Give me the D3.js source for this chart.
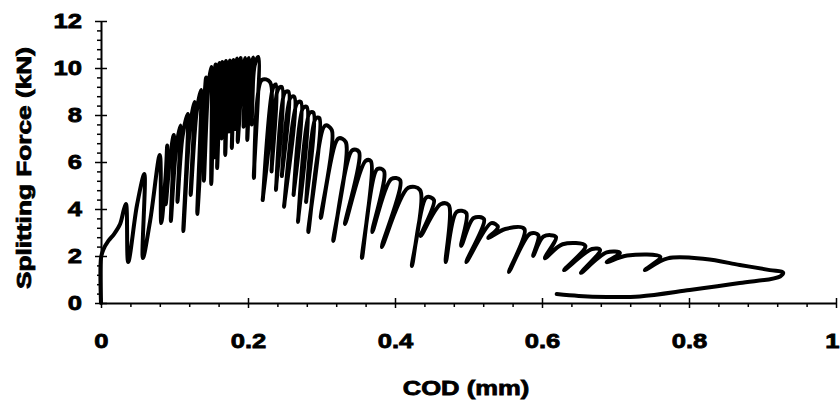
<!DOCTYPE html>
<html>
<head>
<meta charset="utf-8">
<script src="https://cdn.jsdelivr.net/npm/d3@7"></script>
<style>
  body { margin: 0; background: #fff; }
  text { font-family: "Liberation Sans", Arial, sans-serif; font-weight: bold; fill: #000; stroke: #000; stroke-width: 0.8px; }
</style>
</head>
<body>
<svg id="chart" width="840" height="409"></svg>
<script>
// initial rise before the first unloading
const rampCod = [0, 0, 0.003, 0.010, 0.018, 0.026, 0.031];
const rampForce = [0, 1.91, 2.26, 2.64, 2.94, 3.36, 3.96];

// each cycle: unload from peak, bottom of loop, reload back to envelope
const peakCod = [0.034, 0.059, 0.080, 0.090, 0.099, 0.108, 0.118, 0.127, 0.136, 0.143, 0.150, 0.156,
  0.161, 0.165, 0.170, 0.175, 0.180, 0.185, 0.190, 0.196, 0.201, 0.207, 0.214,
  0.230, 0.238, 0.246, 0.255, 0.263, 0.272, 0.280, 0.289, 0.297, 0.314, 0.333, 0.351, 0.367, 0.385,
  0.407, 0.434, 0.453, 0.473, 0.497, 0.521, 0.540, 0.576, 0.595, 0.619, 0.659, 0.679, 0.706, 0.761];
const peakForce = [4.21, 5.49, 6.30, 6.70, 7.15, 7.55, 8.04, 8.55, 9.06, 9.60, 10.04, 10.15,
  10.21, 10.26, 10.30, 10.32, 10.34, 10.40, 10.43, 10.43, 10.43, 10.45, 10.47,
  9.40, 9.30, 9.19, 9.00, 8.77, 8.55, 8.34, 8.10, 7.87, 7.36, 6.85, 6.43, 6.04, 5.62,
  5.23, 4.81, 4.38, 4.17, 3.83, 3.57, 3.23, 3.15, 2.89, 2.81, 2.43, 2.26, 2.13, 1.96];
const troughCod = [0.037, 0.057, 0.082, 0.088, 0.095, 0.104, 0.112, 0.122, 0.131, 0.140, 0.150, 0.154,
  0.158, 0.164, 0.169, 0.174, 0.178, 0.183, 0.186, 0.194, 0.199, 0.205, 0.208,
  0.220, 0.232, 0.238, 0.246, 0.249, 0.262, 0.268, 0.279, 0.282, 0.299, 0.316, 0.332, 0.355, 0.369,
  0.382, 0.423, 0.435, 0.469, 0.490, 0.497, 0.527, 0.555, 0.588, 0.604, 0.630, 0.653, 0.688, 0.740];
const troughForce = [1.74, 1.91, 3.40, 4.20, 3.49, 4.30, 3.06, 4.60, 3.79, 5.20, 5.06, 6.20,
  5.74, 7.00, 6.30, 7.30, 6.60, 7.40, 6.85, 7.50, 6.94, 7.60, 5.32,
  4.38, 5.60, 4.81, 5.40, 4.09, 4.60, 3.45, 4.30, 3.02, 3.62, 2.64, 3.36, 1.91, 3.02,
  2.38, 1.57, 2.85, 1.74, 2.43, 1.74, 2.77, 1.32, 2.00, 1.91, 1.40, 1.28, 1.74, 1.40];
const reloadCod = [0.049, 0.067, 0.088, 0.094, 0.102, 0.111, 0.121, 0.130, 0.140, 0.146, 0.154, 0.158,
  0.163, 0.168, 0.173, 0.177, 0.182, 0.188, 0.193, 0.198, 0.204, 0.209, 0.219,
  0.234, 0.241, 0.250, 0.258, 0.267, 0.275, 0.284, 0.292, 0.305, 0.323, 0.342, 0.360, 0.376, 0.395,
  0.418, 0.443, 0.462, 0.484, 0.507, 0.531, 0.550, 0.584, 0.602, 0.628, 0.668, 0.688, 0.716, 0.771];
const reloadForce = [4.17, 3.53, 5.45, 6.20, 6.51, 7.10, 7.45, 8.10, 8.43, 9.20, 9.49, 9.75,
  9.70, 9.85, 9.83, 9.90, 9.91, 9.95, 9.91, 10.00, 10.00, 10.10, 9.49,
  9.15, 9.10, 8.94, 8.75, 8.51, 8.30, 8.09, 7.85, 7.55, 7.00, 6.50, 6.05, 5.70, 5.28,
  4.90, 4.50, 4.20, 3.88, 3.62, 3.40, 3.15, 2.95, 2.83, 2.50, 2.30, 2.15, 2.02, 1.90];

// last big loop out to the right and back
const tailCod = [0.822, 0.869, 0.910, 0.928, 0.924, 0.869, 0.801, 0.733, 0.688, 0.650, 0.620];
const tailForce = [1.87, 1.62, 1.40, 1.30, 1.13, 0.85, 0.55, 0.28, 0.26, 0.30, 0.38];

const xTickValues = [0, 0.2, 0.4, 0.6, 0.8, 1];
const xTickLabels = ["0", "0.2", "0.4", "0.6", "0.8", "1"];
const yTickValues = [0, 2, 4, 6, 8, 10, 12];
const yTickLabels = ["0", "2", "4", "6", "8", "10", "12"];

const svg = d3.select("#chart");
const x = d3.scaleLinear().domain([0, 1]).range([101, 836]);
const y = d3.scaleLinear().domain([0, 12]).range([303, 21]);
const stretch = 1.22; // the scanned lettering is wider than Liberation Sans

// build the continuous path
const points = [];
rampCod.forEach((c, i) => points.push([c, rampForce[i]]));
peakCod.forEach((c, i) => {
  points.push([c, peakForce[i]]);
  points.push([troughCod[i], troughForce[i]]);
  points.push([reloadCod[i], reloadForce[i]]);
});
tailCod.forEach((c, i) => points.push([c, tailForce[i]]));

// minor ticks
const xMinor = d3.range(0.04, 1, 0.04).filter((d) => Math.abs(d * 5 - Math.round(d * 5)) > 1e-6);
const yMinor = d3.range(0.4, 12, 0.4).filter((d) => Math.abs(d / 2 - Math.round(d / 2)) > 1e-6);

const styleAxis = (g, w) => {
  g.selectAll("path, line").attr("stroke", "#000").attr("stroke-width", w);
};

// x axis
svg.append("g")
  .attr("transform", `translate(0,${y(0)})`)
  .call(d3.axisBottom(x).tickValues(xMinor).tickSize(4).tickSizeOuter(0).tickFormat(""))
  .call((g) => styleAxis(g, 1.5))
  .call((g) => g.select(".domain").remove());
svg.append("g")
  .attr("transform", `translate(0,${y(0)})`)
  .call(d3.axisTop(x).tickValues(xTickValues).tickSize(5).tickSizeOuter(0).tickFormat(""))
  .call((g) => styleAxis(g, 1.5))
  .call((g) => g.select(".domain").remove());
const xAxisG = svg.append("g")
  .attr("transform", `translate(0,${y(0)})`)
  .call(d3.axisBottom(x).tickValues(xTickValues).tickSize(5).tickSizeOuter(0).tickPadding(25)
    .tickFormat((d, i) => xTickLabels[i]))
  .call((g) => styleAxis(g, 1.5));
xAxisG.select(".domain").attr("stroke-width", 2);
xAxisG.selectAll("text")
  .attr("font-size", 21)
  .attr("font-family", null)
  .attr("fill", null)
  .attr("transform", `scale(${stretch},1)`);
xAxisG.selectAll("text")
  .filter((d) => d === 1)
  .attr("text-anchor", "end")
  .attr("x", 3 / stretch);

// y axis
svg.append("g")
  .attr("transform", `translate(${x(0)},0)`)
  .call(d3.axisLeft(y).tickValues(yMinor).tickSize(4).tickSizeOuter(0).tickFormat(""))
  .call((g) => styleAxis(g, 1.5))
  .call((g) => g.select(".domain").remove());
svg.append("g")
  .attr("transform", `translate(${x(0)},0)`)
  .call(d3.axisRight(y).tickValues(yTickValues).tickSize(6).tickSizeOuter(0).tickFormat(""))
  .call((g) => styleAxis(g, 1.5))
  .call((g) => g.select(".domain").remove());
const yAxisG = svg.append("g")
  .attr("transform", `translate(${x(0)},0)`)
  .call(d3.axisLeft(y).tickValues(yTickValues).tickSize(6).tickSizeOuter(0).tickPadding(13)
    .tickFormat((d, i) => yTickLabels[i]))
  .call((g) => styleAxis(g, 1.5));
yAxisG.select(".domain").attr("stroke-width", 2);
yAxisG.selectAll("text")
  .attr("font-size", 21)
  .attr("font-family", null)
  .attr("fill", null)
  .attr("x", -19 / stretch)
  .attr("transform", `scale(${stretch},1)`);

// the force-COD curve
const line = d3.line()
  .x((d) => x(d[0]))
  .y((d) => y(d[1]))
  .curve(d3.curveCatmullRom.alpha(0.5));

svg.append("path")
  .datum(points)
  .attr("fill", "none")
  .attr("stroke", "#000")
  .attr("stroke-width", 4)
  .attr("stroke-linejoin", "round")
  .attr("stroke-linecap", "round")
  .attr("d", line);

// axis titles
svg.append("text")
  .attr("transform", `translate(466,395) scale(${stretch},1)`)
  .attr("text-anchor", "middle")
  .attr("font-size", 21)
  .text("COD (mm)");

svg.append("text")
  .attr("transform", `translate(31,168) rotate(-90) scale(1.25,1)`)
  .attr("text-anchor", "middle")
  .attr("font-size", 21)
  .text("Splitting Force (kN)");
</script>
</body>
</html>
